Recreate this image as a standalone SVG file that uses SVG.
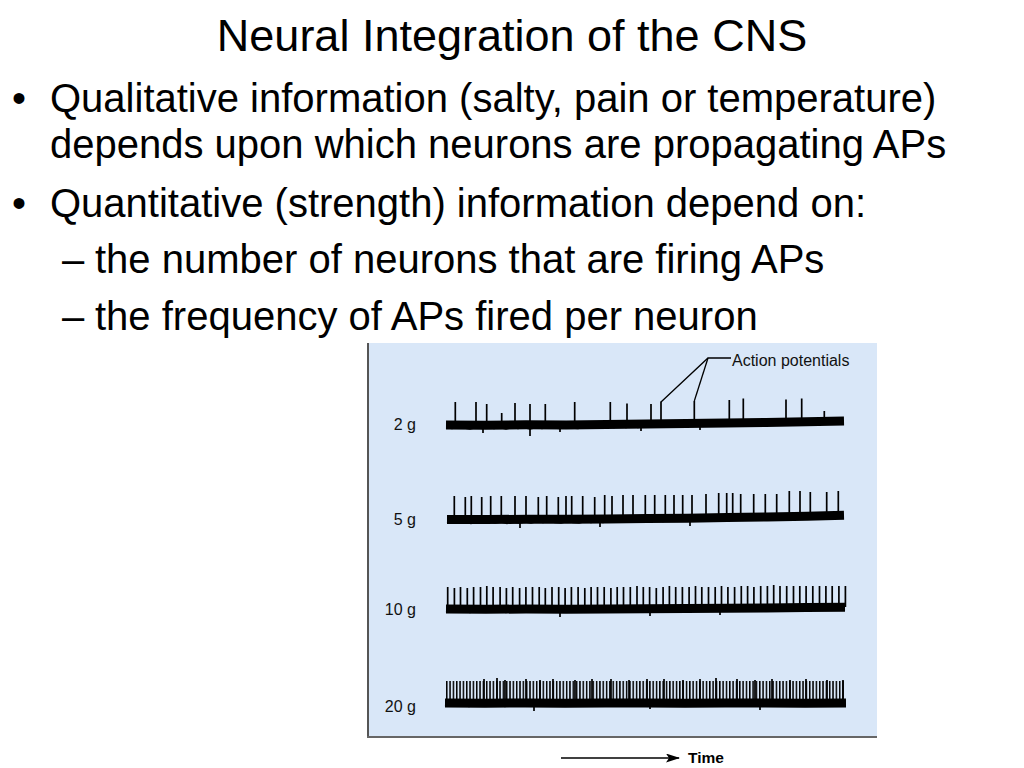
<svg xmlns="http://www.w3.org/2000/svg" width="1024" height="768" viewBox="0 0 1024 768">
<style>
.t{font-family:"Liberation Sans",Arial,sans-serif;fill:#000}
.title{font-size:45px}
.b{font-size:40px}
.lbl{font-size:16px;fill:#111}
.trace{fill:none;stroke:#000;stroke-width:9;stroke-linejoin:miter}
.noise{fill:none;stroke:#000;stroke-width:1.5}
.spk{fill:none;stroke:#000;stroke-width:1.7}
.lead{fill:none;stroke:#000;stroke-width:1.3}
</style>
<defs>
<pattern id="p20" patternUnits="userSpaceOnUse" x="446" y="0" width="3.33" height="768">
<rect x="0" y="0" width="1.5" height="768" fill="#000"/>
</pattern>
<marker id="arr" markerWidth="14" markerHeight="9" refX="13" refY="4.5" orient="auto" markerUnits="userSpaceOnUse">
<path d="M0,0 L14,4.5 L0,9 L3,4.5 Z" fill="#000"/>
</marker>
</defs>
<rect width="1024" height="768" fill="#fff"/>

<g id="title"><text class="t title" x="512" y="51" text-anchor="middle">Neural Integration of the CNS</text></g>

<g id="bullets">
<text class="t b" x="12" y="112">•</text>
<text class="t b" x="50" y="112">Qualitative information (salty, pain or temperature)</text>
<text class="t b" x="50" y="158">depends upon which neurons are propagating APs</text>
<text class="t b" x="12" y="217">•</text>
<text class="t b" x="50" y="217">Quantitative (strength) information depend on:</text>
<text class="t b" x="62" y="273">–</text>
<text class="t b" x="95" y="273">the number of neurons that are firing APs</text>
<text class="t b" x="62" y="330">–</text>
<text class="t b" x="95" y="330">the frequency of APs fired per neuron</text>
</g>

<g id="figure">
<rect x="368" y="343" width="509" height="394" fill="#d9e7f8"/>
<line x1="368" y1="343" x2="368" y2="737" stroke="#555" stroke-width="2"/>
<line x1="367" y1="737" x2="877" y2="737" stroke="#666" stroke-width="2"/>

<g id="trace-2g">
<text class="t lbl" x="416" y="430" text-anchor="end">2 g</text>
<polyline class="trace" points="446,425 486,425.3 526,424.8 566,425 606,424.6 646,424 686,423.6 726,423 766,422.4 806,421.8 844,421"/>
<polyline class="noise" transform="translate(0,-2.5)" points="446,430 452,431 458,429.5 464,430.5 470,431.5 476,430 482,431 488,429.5 494,431 500,430 506,431.5 512,430 518,431 524,430 530,431.5 536,430 542,431 548,429.5 554,430.5 560,431 566,429.5 572,430.5 578,431 584,429.5 590,430.5 596,429.5 602,430.5 608,429 614,430 620,429 626,430 632,429 638,430 644,428.5 650,429.5 656,428.5 662,429.5 668,428.5 674,429 680,428 686,429 692,428 698,428.5 704,427.5 710,428.5 716,427.5 722,428 728,427 734,428 740,427 746,427.5 752,426.5 758,427.5 764,426.5 770,427 776,426 782,426.5 788,425.5 794,426.5 800,425.5 806,426 812,425 818,425.5 824,424.5 830,425 836,424.5 844,424"/>
<path class="spk" d="M455.3 402V425M476 402V425M486.7 404V425M501.7 413V425M515 403V425M530 404V425M545.3 404V425M574.7 402V425M610.3 402V425M627 403.5V424M651 404V424M661 401.5V424M694.3 401V424M729.3 400V423M743.3 398.5V423M786 399.5V423M801.7 398.5V422M824.3 411V422M530 426V436M483 426V433M560 426V432M641 426V431M700 425V430"/>
</g>

<g id="trace-5g">
<text class="t lbl" x="416" y="525" text-anchor="end">5 g</text>
<polyline class="trace" points="447,519.5 487,519.6 527,519.2 567,519.2 607,519 647,518.6 687,518.2 727,517.6 767,517 807,516.2 844,515.3"/>
<polyline class="noise" transform="translate(0,-2.5)" points="447,524.5 453,525.5 459,524 465,525 471,526 477,524.5 483,525.5 489,524 495,525.5 501,524.5 507,526 513,524.5 519,525.5 525,524.5 531,525.5 537,524 543,525 549,524 555,525 561,525.5 567,524 573,525 579,525.5 585,524 591,525 597,524 603,525 609,523.5 615,524.5 621,523.5 627,524.5 633,523.5 639,524.5 645,523 651,524 657,523 663,524 669,523 675,523.5 681,522.5 687,523.5 693,522.5 699,523 705,522 711,523 717,522 723,522.5 729,521.5 735,522.5 741,521.5 747,522 753,521 759,522 765,521 771,521.5 777,520.5 783,521 789,520 795,521 801,520 807,520.5 813,519.5 819,520 825,519 831,519.5 837,519 844,518.5"/>
<path class="spk" d="M454.3 496V520M465.3 497V520M471.3 496V520M481.7 497V520M490.7 496V520M501.3 496V520M515 496V520M526 496V520M538.3 497V520M546.7 496V520M558.3 497V520M566 496V520M571.7 496V520M582.7 496V519M594.7 497V519M604.7 495V519M612 496V519M623 495V519M633 495V519M645.3 495V519M654.7 495V519M665.3 495V519M674 495V519M682.7 495V519M692 495V518M706 494V518M718.7 493V518M726.7 493V518M732.7 493V518M740.7 494V518M753.7 494V517M765.3 494V517M776.7 494V517M789.3 491V517M800 491V516M810.3 492V516M826.7 492V516M838.3 491V516M520 520V528M600 520V527M690 519V526"/>
</g>

<g id="trace-10g">
<text class="t lbl" x="416" y="615" text-anchor="end">10 g</text>
<polyline class="trace" points="446,609 486,609.3 526,609 566,609.2 606,609 646,608.8 686,608.6 726,608.3 766,608 806,607.6 845,607.2"/>
<polyline class="noise" transform="translate(0,-2.5)" points="446,613.5 452,614.5 458,613 464,614 470,615 476,613.5 482,614.5 488,613 494,614.5 500,613.5 506,615 512,613.5 518,614.5 524,613.5 530,614.5 536,613 542,614 548,613 554,614 560,614.5 566,613 572,614 578,614.5 584,613 590,614 596,613 602,614 608,613 614,614 620,613 626,614 632,613 638,614 644,612.5 650,613.5 656,612.5 662,613.5 668,612.5 674,613 680,612 686,613 692,612 698,613 704,612 710,613 716,612 722,612.5 728,611.5 734,612.5 740,611.5 746,612 752,611 758,612 764,611 770,612 776,611 782,611.5 788,610.5 794,611.5 800,610.5 806,611 812,610.5 818,611 824,610 830,611 836,610 845,610.5"/>
<path class="spk" d="M447.7 587V609M454.4 588V609M460.5 587V609M467.3 588V609M473.6 587V609M480.5 587V609M486.8 586V609M493.1 587V609M500.1 587V609M506.4 588V609M512.7 587V609M519.6 588V609M525.9 587V609M532.5 587V609M539.2 587V609M545.3 588V609M552 587V609M558.7 587V609M565.1 588V609M571.4 587V609M578.1 587V609M584.8 588V609M591.1 587V609M597.5 587V609M604.2 587V609M610.9 588V609M617.2 587V609M623.5 587V608M630.3 587V608M637 586V608M643.3 587V608M649.6 587V608M656.3 588V608M663.1 587V608M669.4 586V608M675.7 587V608M682.4 587V608M689.1 587V608M695.5 586V608M701.8 587V608M708.5 587V608M715.2 587V608M721.5 586V608M727.9 587V608M734.6 587V608M741.3 586V608M747.6 586V608M753.9 587V608M760.7 586V608M767.4 586V608M773.7 585V608M780 586V607M786.7 586V607M793.5 586V607M799.8 586V607M806.1 586V607M812.8 586V607M819.5 586V607M825.9 586V607M832.2 586V607M838.9 586V607M845.4 586V607M560 610V617M650 609V616M720 609V615"/>
</g>

<g id="trace-20g">
<text class="t lbl" x="416" y="712" text-anchor="end">20 g</text>
<rect x="446" y="681" width="398" height="20" fill="url(#p20)"/>
<polyline class="trace" points="445,703 485,703.2 525,703 565,703.2 605,703 645,703 685,703.2 725,703 765,703 805,703.2 846,703"/>
<polyline class="noise" transform="translate(0,-2.5)" points="445,707.5 451,708.5 457,707 463,708 469,709 475,707.5 481,708.5 487,707 493,708.5 499,707.5 505,709 511,707.5 517,708.5 523,707.5 529,708.5 535,707 541,708 547,707 553,708 559,708.5 565,707 571,708 577,708.5 583,707 589,708 595,707 601,708 607,707 613,708 619,707 625,708 631,707 637,708 643,707 649,708.5 655,707 661,708 667,707 673,708 679,707 685,708 691,707 697,708 703,707 709,708.5 715,707 721,708 727,707 733,708 739,707 745,708 751,707 757,708.5 763,707 769,708 775,707 781,708 787,707 793,708 799,707 805,708 811,707 817,708 823,707 829,708 835,707 846,707.5"/>
<path class="spk" d="M484 679V700M497 678V700M505 680V700M526 679V700M540 680V700M553 679V700M575 680V700M592 679V700M611 679V700M629 680V700M647 679V700M664 679V700M683 680V700M700 679V700M716 678V700M737 679V700M755 680V700M772 679V700M790 680V700M806 679V700M827 680V700M843 680V700M534 704V711M760 704V710M650 704V709"/>
</g>
</g>

<g id="connectors">
<text class="t lbl" x="732" y="366">Action potentials</text>
<polyline class="lead" points="661,402 708,358 731,358"/>
<line class="lead" x1="694.3" y1="401" x2="708" y2="358"/>
<line x1="561" y1="758" x2="679" y2="758" stroke="#000" stroke-width="1.6" marker-end="url(#arr)"/>
<text class="t" x="688" y="763" font-size="15.5" font-weight="bold">Time</text>
</g>
</svg>
